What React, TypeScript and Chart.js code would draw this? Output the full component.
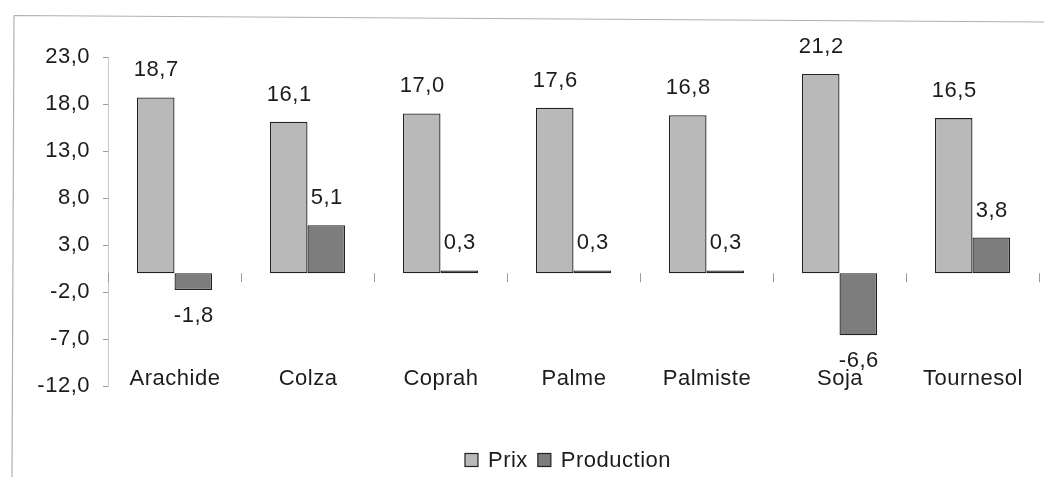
import React, { useEffect, useRef } from "react";
import { Chart, registerables } from "chart.js";

Chart.register(...registerables);

const categories = ["Arachide", "Colza", "Coprah", "Palme", "Palmiste", "Soja", "Tournesol"];
const prixValues = [18.7, 16.1, 17.0, 17.6, 16.8, 21.2, 16.5];
const productionValues = [-1.8, 5.1, 0.3, 0.3, 0.3, -6.6, 3.8];
const seriesLabels = ["Prix", "Production"];
const yMin = -12;
const yMax = 23;
const yStep = 5;

const FONT_FAMILY = "'Liberation Sans', Arial, sans-serif";
const FONT_SIZE = 22;
const SPACING = "0.5px";
const TEXT_COLOR = "#1c1c1c";
const PRIX_COLOR = "#b9b9b9";
const PROD_COLOR = "#7d7d7d";
const BORDER_COLOR = "#222";
const AXIS_COLOR = "#9a9a9a";

const fmt = (v: number) => v.toFixed(1).replace(".", ",");

const spacingPlugin = {
  id: "spacing",
  beforeUpdate(chart: any) {
    (chart.ctx as any).letterSpacing = SPACING;
  },
  beforeDraw(chart: any) {
    const ctx = chart.ctx;
    (ctx as any).letterSpacing = SPACING;
    // scanned frame lines
    ctx.save();
    ctx.strokeStyle = "#b0b0b0";
    ctx.lineWidth = 1.2;
    ctx.beginPath();
    ctx.moveTo(14, 15.5);
    ctx.lineTo(1044, 22);
    ctx.moveTo(14, 15.5);
    ctx.lineTo(12, 477);
    ctx.stroke();
    ctx.restore();
  },
};

const labelsPlugin = {
  id: "customLabels",
  afterDatasetsDraw(chart: any) {
    const ctx = chart.ctx;
    const xScale = chart.scales.x;
    const yScale = chart.scales.y;
    const area = chart.chartArea;
    ctx.save();
    (ctx as any).letterSpacing = SPACING;
    ctx.font = `${FONT_SIZE}px ${FONT_FAMILY}`;
    ctx.fillStyle = TEXT_COLOR;
    ctx.textAlign = "center";
    ctx.textBaseline = "middle";

    // value labels
    chart.data.datasets.forEach((ds: any, di: number) => {
      const meta = chart.getDatasetMeta(di);
      meta.data.forEach((bar: any, i: number) => {
        const v = ds.data[i];
        const y = v >= 0 ? bar.y - 27 : bar.y + 26;
        ctx.fillText(fmt(v), bar.x + 0.5, y);
      });
    });

    // category labels (low position)
    categories.forEach((c, i) => {
      ctx.fillText(c, xScale.getPixelForValue(i) + 0.5, area.bottom - 7);
    });

    // category boundary ticks on zero line
    const y0 = yScale.getPixelForValue(0);
    ctx.strokeStyle = AXIS_COLOR;
    ctx.lineWidth = 1;
    ctx.beginPath();
    for (let i = 0; i <= categories.length; i++) {
      const x = Math.round(xScale.getPixelForValue(i - 0.5)) + 0.5;
      ctx.moveTo(x, y0);
      ctx.lineTo(x, y0 + 9);
    }
    ctx.stroke();

    // legend
    const colors = [PRIX_COLOR, PROD_COLOR];
    const box = 13;
    const gap = 10;
    const legY = 460;
    const widths = seriesLabels.map((l) => ctx.measureText(l).width);
    let total = 0;
    widths.forEach((w, i) => {
      total += box + gap + w + (i < widths.length - 1 ? 10 : 0);
    });
    let x = 568 - total / 2;
    ctx.textAlign = "left";
    seriesLabels.forEach((l, i) => {
      ctx.fillStyle = colors[i];
      ctx.fillRect(x, legY - box / 2, box, box);
      ctx.strokeStyle = BORDER_COLOR;
      ctx.lineWidth = 1.2;
      ctx.strokeRect(x, legY - box / 2, box, box);
      ctx.fillStyle = TEXT_COLOR;
      ctx.fillText(l, x + box + gap, legY + 1);
      x += box + gap + widths[i] + 10;
    });
    ctx.restore();
  },
};

export default function App() {
  const canvasRef = useRef<HTMLCanvasElement | null>(null);

  useEffect(() => {
    const canvas = canvasRef.current;
    if (!canvas) return;
    const chart = new Chart(canvas, {
      type: "bar",
      data: {
        labels: categories,
        datasets: [
          {
            label: seriesLabels[0],
            data: prixValues,
            backgroundColor: PRIX_COLOR,
            borderColor: BORDER_COLOR,
            borderWidth: 1.3,
            borderSkipped: false,
          },
          {
            label: seriesLabels[1],
            data: productionValues,
            backgroundColor: PROD_COLOR,
            borderColor: BORDER_COLOR,
            borderWidth: 1.3,
            borderSkipped: false,
          },
        ],
      },
      options: {
        responsive: false,
        animation: false,
        devicePixelRatio: 1,
        layout: { padding: { left: 0, top: 57, right: 5, bottom: 91 } },
        datasets: {
          bar: { categoryPercentage: 0.565, barPercentage: 1 },
        },
        plugins: {
          legend: { display: false },
          tooltip: { enabled: false },
          title: { display: false },
        },
        scales: {
          x: {
            display: false,
            offset: true,
          },
          y: {
            min: yMin,
            max: yMax,
            afterFit(scale: any) {
              scale.width = 108;
            },
            ticks: {
              stepSize: yStep,
              padding: 13,
              color: TEXT_COLOR,
              font: { family: FONT_FAMILY, size: FONT_SIZE },
              callback: (v: any) => fmt(Number(v)),
            },
            grid: {
              color: (c: any) => (c.tick && c.tick.value === 0 ? AXIS_COLOR : "transparent"),
              tickColor: AXIS_COLOR,
              tickLength: 5,
              lineWidth: 1,
            },
            border: { color: "#c8c8c8", width: 1 },
          },
        },
      },
      plugins: [spacingPlugin, labelsPlugin],
    });
    return () => chart.destroy();
  }, []);

  return (
    <div style={{ position: "fixed", left: 0, top: 0, width: 1044, height: 477, background: "#fff" }}>
      <canvas ref={canvasRef} width={1044} height={477} style={{ display: "block" }} />
    </div>
  );
}
